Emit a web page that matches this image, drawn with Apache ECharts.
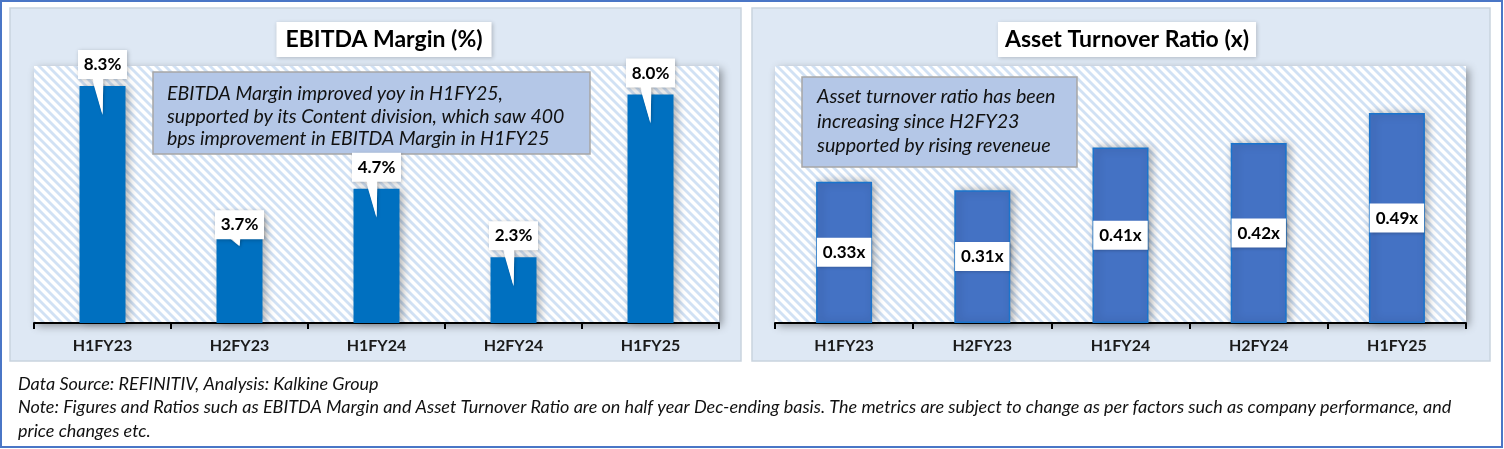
<!DOCTYPE html>
<html><head><meta charset="utf-8">
<script src="https://cdn.jsdelivr.net/npm/echarts@6/dist/echarts.min.js"></script>
<style>html,body{margin:0;padding:0;background:#fff}#c{width:1504px;height:449px}</style>
</head><body><div id="c"></div>
<script>
const categories = ['H1FY23','H2FY23','H1FY24','H2FY24','H1FY25'];
const ebitdaMargin = [8.3, 3.7, 4.7, 2.3, 8.0];
const assetTurnover = [0.33, 0.31, 0.41, 0.42, 0.49];
const calloutShift = [0, 29, 0, 0, 0];
const titles = ['EBITDA Margin (%)', 'Asset Turnover Ratio (x)'];
const noteLeft = ['EBITDA Margin improved yoy in H1FY25,', 'supported by its Content division, which saw 400', 'bps improvement in EBITDA Margin in H1FY25'];
const noteRight = ['Asset turnover ratio has been', 'increasing since H2FY23', 'supported by rising reveneue'];
const footer = ['Data Source: REFINITIV, Analysis: Kalkine Group',
  'Note: Figures and Ratios such as EBITDA Margin and Asset Turnover Ratio are on half year Dec-ending basis. The metrics are subject to change as per factors such as company performance, and',
  'price changes etc.'];

const FONT = 'Lato, "Open Sans", sans-serif';
const P = 9;
const cv = document.createElement('canvas'); cv.width = P; cv.height = P;
const cx2 = cv.getContext('2d');
cx2.fillStyle = '#ffffff'; cx2.fillRect(0,0,P,P);
cx2.strokeStyle = '#d1e1f4'; cx2.lineWidth = 2.8;
for (let k=-1;k<=1;k++){ cx2.beginPath(); cx2.moveTo(-1, k*P-1); cx2.lineTo(P+1, P+1+k*P); cx2.stroke(); }
const pattern = {image: cv, repeat: 'repeat'};

const chart = echarts.init(document.getElementById('c'));
const gridCommon = {top: 66, bottom: 126, show: true, backgroundColor: pattern, borderWidth: 0,
  shadowBlur: 9, shadowColor: 'rgba(0,0,0,0.38)', shadowOffsetX: 3, shadowOffsetY: 3};
const xCommon = {type: 'category', data: categories,
  axisLine: {lineStyle: {color: '#000', width: 2}},
  axisTick: {show: true, length: 6, lineStyle: {color: '#000', width: 2}},
  axisLabel: {color: '#1a1a1a', fontWeight: 'bold', fontSize: 16, fontFamily: FONT, margin: 15}};

function textLines(lines, x, y0, lh, size){
  return lines.map((t,i)=>({type:'text', left: x, top: y0 + i*lh, silent:true,
    style:{text:t, font:'italic '+size+'px '+FONT, fill:'#111'}}));
}
const titleStyle = {fontSize: 23, fontWeight: 'bold', color: '#000', fontFamily: FONT};

chart.setOption({
  animation: false,
  title: [
    {text: titles[0], left: 375, top: 22, textAlign: 'center', backgroundColor: '#fff', padding: [6,9],
     shadowBlur: 4, shadowColor: 'rgba(0,0,0,0.2)', shadowOffsetX: 1, shadowOffsetY: 1, textStyle: titleStyle},
    {text: titles[1], left: 1120, top: 22, textAlign: 'center', backgroundColor: '#fff', padding: [6,7],
     shadowBlur: 4, shadowColor: 'rgba(0,0,0,0.2)', shadowOffsetX: 1, shadowOffsetY: 1, textStyle: titleStyle}
  ],
  grid: [
    Object.assign({left: 34, right: 1504-719}, gridCommon),
    Object.assign({left: 775, right: 1504-1466}, gridCommon)
  ],
  xAxis: [Object.assign({gridIndex: 0}, xCommon), Object.assign({gridIndex: 1}, xCommon)],
  yAxis: [
    {gridIndex: 0, min: 0, max: 9, show: false},
    {gridIndex: 1, min: 0, max: 0.6, show: false}
  ],
  graphic: [
    {type:'rect', z:-10, silent:true, shape:{x:1, y:1, width:1501, height:446}, style:{fill:'#fff', stroke:'#4a76c6', lineWidth:2}},
    {type:'rect', z:-9, silent:true, shape:{x:10, y:8, width:731, height:353}, style:{fill:'#dee8f4', stroke:'#c9d3de', lineWidth:1.5}},
    {type:'rect', z:-9, silent:true, shape:{x:752, y:8, width:738, height:353}, style:{fill:'#dee8f4', stroke:'#c9d3de', lineWidth:1.5}},
    {type:'group', z: 100, children: [
      {type:'rect', shape:{x:153, y:72, width:437, height:82}, style:{fill:'#b4c7e7', stroke:'#a6a6a6', lineWidth:1.5}},
      ...textLines(noteLeft, 167, 84, 22.5, 19.5)
    ]},
    {type:'group', z: 100, children: [
      {type:'rect', shape:{x:802, y:77, width:275, height:90}, style:{fill:'#b4c7e7', stroke:'#a6a6a6', lineWidth:1.5}},
      ...textLines(noteRight, 817, 87, 24.5, 19.7)
    ]},
    ...textLines(footer, 18, 375, 23.5, 18)
  ],
  series: [
    {type: 'bar', xAxisIndex: 0, yAxisIndex: 0, data: ebitdaMargin, barWidth: 46,
     itemStyle: {color: '#0070c0', shadowBlur: 8, shadowColor: 'rgba(0,0,0,0.3)', shadowOffsetX: 3, shadowOffsetY: 0}},
    {type: 'custom', xAxisIndex: 0, yAxisIndex: 0, z: 5,
     data: ebitdaMargin.map((v,i)=>[i, v]),
     renderItem: function(params, api){
       const idx = params.dataIndex;
       const p = api.coord([api.value(0), api.value(1)]);
       const cx = p[0], ty = p[1];
       const bb = ty - 7 + calloutShift[idx];
       const w = 49, h = 29;
       return {type:'group', children:[
         {type:'polygon', shape:{points:[[cx-11, bb-2],[cx+1, bb-2],[cx, ty+29]]},
          style:{fill:'#fff', shadowBlur:3, shadowColor:'rgba(0,0,0,0.25)', shadowOffsetX:1, shadowOffsetY:1}},
         {type:'rect', shape:{x: cx - w/2, y: bb - h, width: w, height: h},
          style:{fill:'#fff', shadowBlur:4, shadowColor:'rgba(0,0,0,0.25)', shadowOffsetX:1, shadowOffsetY:1}},
         {type:'polygon', shape:{points:[[cx-10.5, bb-3],[cx+0.5, bb-3],[cx, ty+28]]}, style:{fill:'#fff'}},
         {type:'text', style:{x: cx, y: bb - h/2, text: api.value(1).toFixed(1) + '%', textAlign:'center', textVerticalAlign:'middle',
          font: 'bold 17px ' + FONT, fill:'#000'}}
       ]};
     }},
    {type: 'bar', xAxisIndex: 1, yAxisIndex: 1, data: assetTurnover, barWidth: 56,
     itemStyle: {color: '#4472c4', borderColor: '#1a74cc', borderWidth: 1.5, shadowBlur: 8, shadowColor: 'rgba(0,0,0,0.3)', shadowOffsetX: 3, shadowOffsetY: 0},
     label: {show: true, position: 'inside', backgroundColor: '#fff', padding: [6,6], color: '#000',
       fontWeight: 'bold', fontSize: 17, fontFamily: FONT,
       shadowBlur: 3, shadowColor: 'rgba(0,0,0,0.25)', shadowOffsetX: 1, shadowOffsetY: 1,
       formatter: p => p.value.toFixed(2) + 'x'}}
  ]
});
</script></body></html>
